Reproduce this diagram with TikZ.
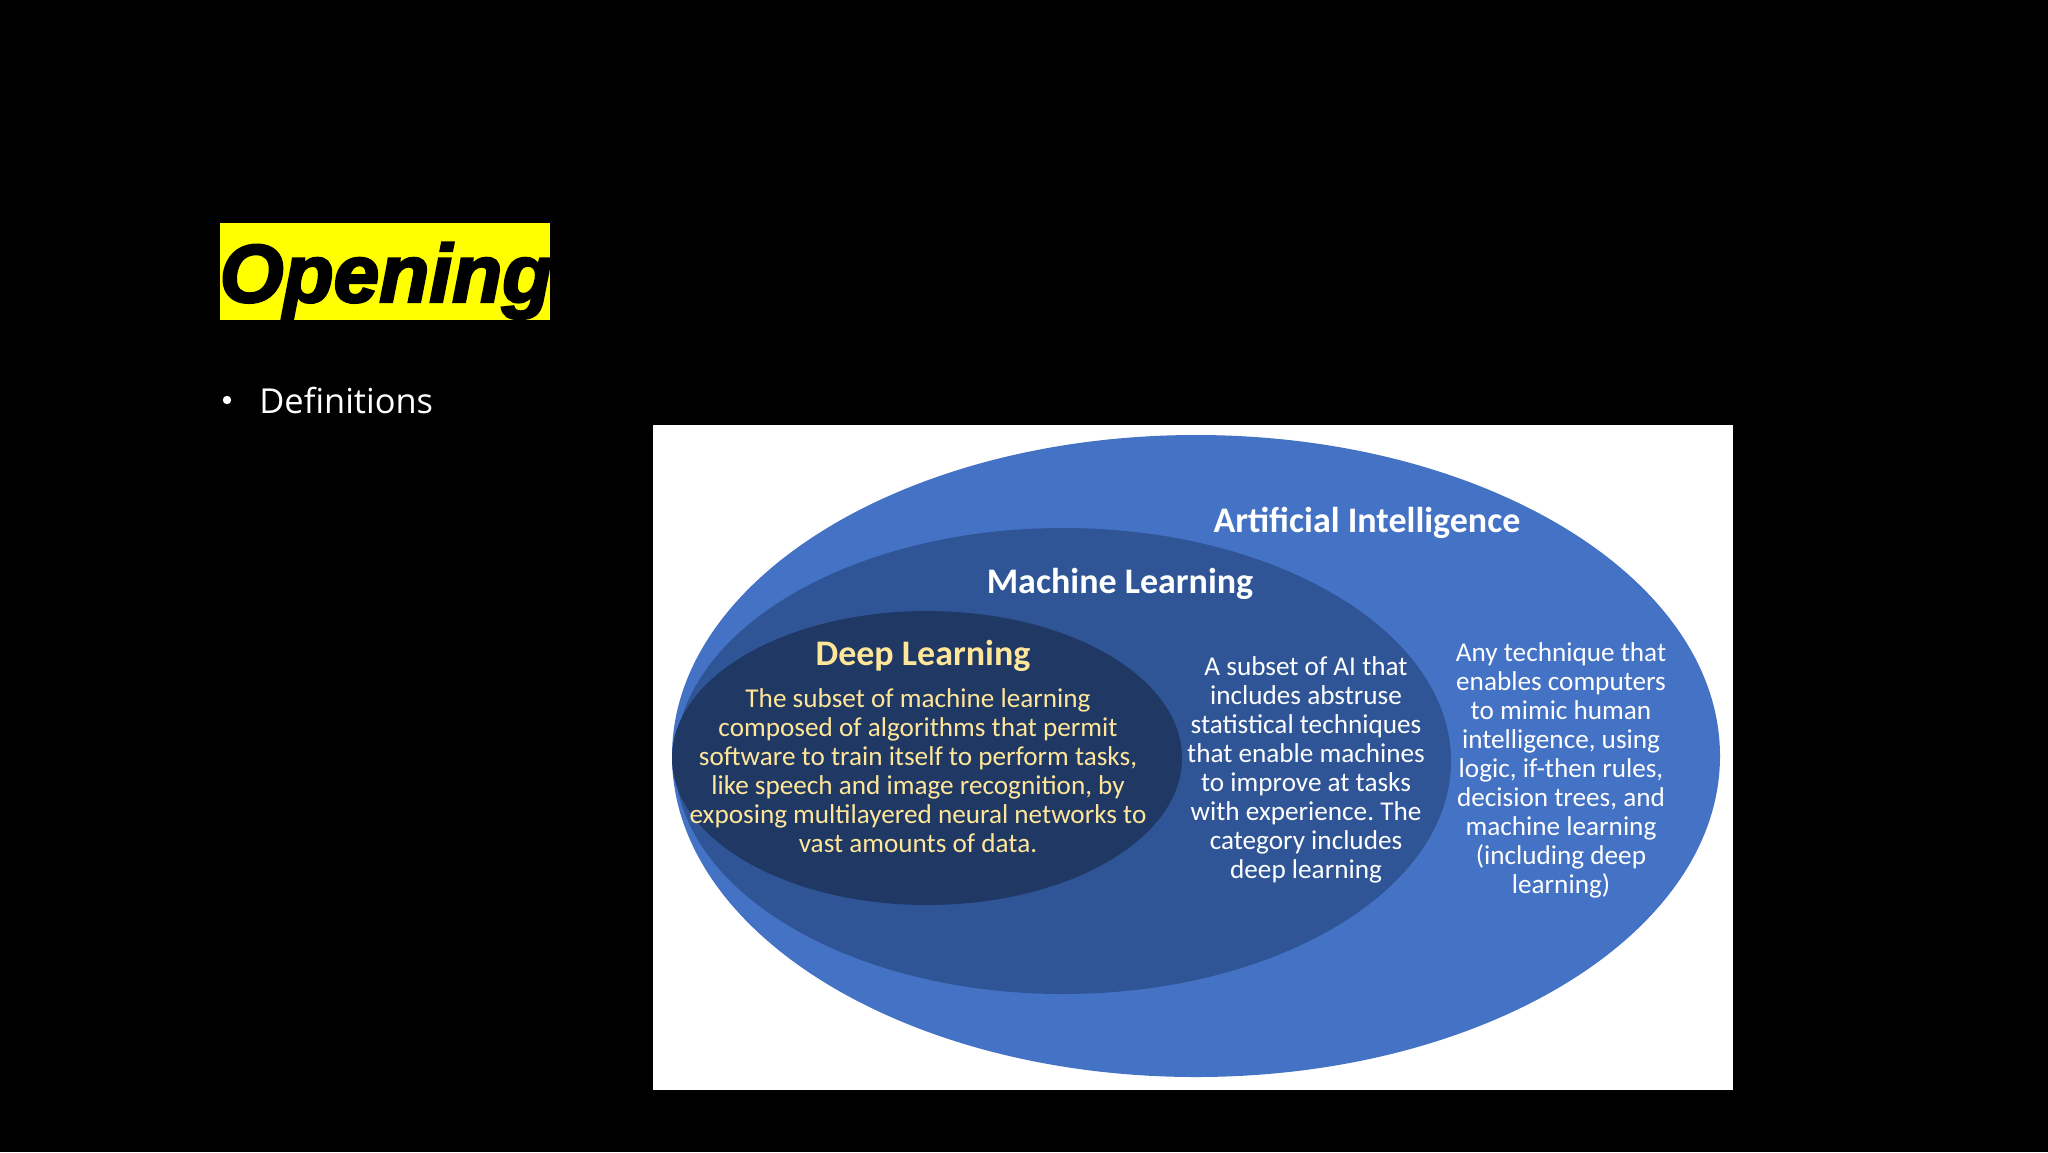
\documentclass[tikz,border=0pt]{standalone}
\usepackage{fontspec}
\usetikzlibrary{shapes.geometric}
\frenchspacing
\newfontfamily\carlito{Carlito}
\newfontfamily\opensans{Open Sans}
\newfontfamily\titlefont{Liberation Sans}[FakeBold=3]
\definecolor{aiblue}{HTML}{4472C4}
\definecolor{mlblue}{HTML}{2F5597}
\definecolor{dlblue}{HTML}{1F3864}
\definecolor{dlgold}{HTML}{FFE699}
\definecolor{titleyellow}{HTML}{FFFF00}
\tikzset{
  blob/.style={ellipse, inner sep=0pt, draw=none},
  headtxt/.style={font=\carlito\bfseries\fontsize{18}{21}\selectfont, inner sep=0pt, anchor=base},
  bodytxt/.style={font=\carlito\fontsize{13.6}{14.5}\selectfont, align=center, inner sep=0pt},
}
\begin{document}
\begin{tikzpicture}[x=0.5pt,y=-0.5pt]
\fill[black] (0,0) rectangle (2048,1152);
\useasboundingbox (0,0) rectangle (2048,1152);
% title
\node[fill=titleyellow, minimum width=165pt, minimum height=48.5pt, inner sep=0pt] (titlebox) at (385,271.5) {};
\node[font=\titlefont\bfseries\itshape\fontsize{41}{45}\selectfont, inner sep=0pt, anchor=base] (title) at (386,302) {Opening};
% bullet
\node[circle, fill=white, minimum size=4.2pt, inner sep=0pt] (bul) at (227,400) {};
\node[font=\opensans\fontsize{17.2}{20}\selectfont, text=white, inner sep=0pt, anchor=base west] (defs) at (259,413) {Definitions};
% picture
\node[fill=white, minimum width=540pt, minimum height=332.5pt, inner sep=0pt] (panel) at (1193,757.5) {};
\node[blob, fill=aiblue, minimum width=524pt, minimum height=321pt] (ai) at (1196,756) {};
\node[blob, fill=mlblue, minimum width=388pt, minimum height=233pt] (ml) at (1063,761) {};
\node[blob, fill=dlblue, minimum width=255pt, minimum height=147pt] (dl) at (927,758) {};
% headings
\node[headtxt, text=white] (aih) at (1367,532) {Artificial Intelligence};
\node[headtxt, text=white] (mlh) at (1120,593) {Machine Learning};
\node[headtxt, text=dlgold] (dlh) at (923,665) {Deep Learning};
% bodies
\node[bodytxt, text=dlgold] (dlb) at (918,771) {The subset of machine learning\\composed of algorithms that permit\\software to train itself to perform tasks,\\like speech and image recognition, by\\exposing multilayered neural networks to\\vast amounts of data.};
\node[bodytxt, text=white] (mlb) at (1306,770) {A subset of AI that\\includes abstruse\\statistical techniques\\that enable machines\\to improve at tasks\\with experience. The\\category includes\\deep learning};
\node[bodytxt, text=white] (aib) at (1561,770) {Any technique that\\enables computers\\to mimic human\\intelligence, using\\logic, if-then rules,\\decision trees, and\\machine learning\\(including deep\\learning)};
\end{tikzpicture}
\end{document}
